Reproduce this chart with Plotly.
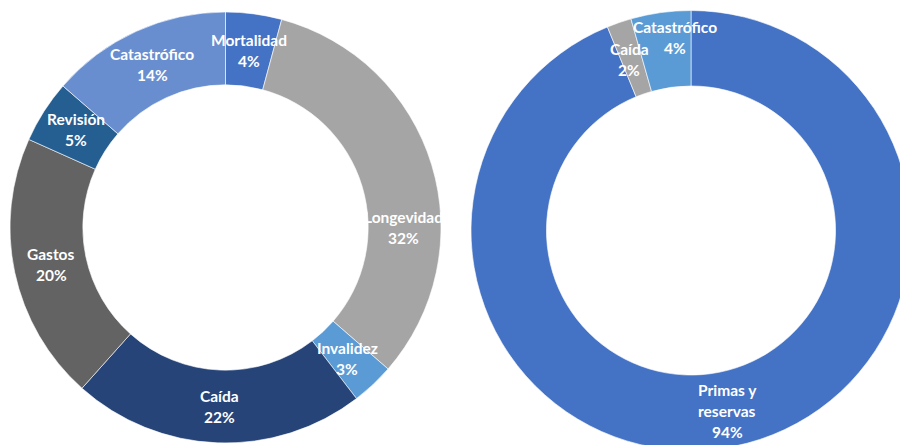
import plotly.graph_objects as go

# ---- data ----
left_labels = ["Mortalidad", "Longevidad", "Invalidez", "Caída", "Gastos", "Revisión", "Catastrófico"]
left_values = [4.2, 32.2, 3.2, 22.0, 20.1, 4.7, 13.6]
left_colors = ["#4472C4", "#A5A5A5", "#5B9BD5", "#264478", "#636363", "#255E91", "#698ED0"]

right_labels = ["Primas y<br>reservas", "Caída", "Catastrófico"]
right_values = [93.8, 1.8, 4.4]
right_colors = ["#4472C4", "#A5A5A5", "#5B9BD5"]

# label anchor positions (pixels: centre x, y of first line)
left_label_pos = [(249, 40), (403, 217), (347, 348), (219, 396), (51, 254), (76, 119), (152, 54)]
right_label_pos = [(727, 390), (629, 49), (675, 27)]

W, H = 912, 452

fig = go.Figure()
fig.add_trace(go.Pie(
    labels=left_labels, values=left_values, sort=False, direction="clockwise",
    hole=0.662, marker=dict(colors=left_colors, line=dict(color="white", width=0.6)),
    textinfo="none", hoverinfo="label+percent", showlegend=False,
    domain=dict(x=[10 / W, 441 / W], y=[1 - 443 / H, 1 - 12 / H]),
))
fig.add_trace(go.Pie(
    labels=right_labels, values=right_values, sort=False, direction="clockwise",
    hole=0.657, marker=dict(colors=right_colors, line=dict(color="white", width=0.6)),
    textinfo="none", hoverinfo="label+percent", showlegend=False,
    domain=dict(x=[471 / W, 911 / W], y=[1 - 450.5 / H, 1 - 10.5 / H]),
))

font = dict(family="Lato", size=15.5, color="white")
LINE = 21


def add_labels(labels, values, positions):
    total = sum(values)
    for lab, v, (px, py) in zip(labels, values, positions):
        lines = lab.split("<br>") + [f"{round(v / total * 100)}%"]
        for i, t in enumerate(lines):
            fig.add_annotation(
                x=px / W, y=1 - (py + i * LINE) / H, xref="paper", yref="paper",
                text=f"<b>{t}</b>", showarrow=False, font=font,
                xanchor="center", yanchor="middle",
            )


add_labels(left_labels, left_values, left_label_pos)
add_labels(right_labels, right_values, right_label_pos)

fig.update_layout(
    width=W, height=H, margin=dict(l=0, r=0, t=0, b=0),
    paper_bgcolor="white", plot_bgcolor="white",
)

fig.write_html(
    "out.html",
    config={"displayModeBar": False},
    post_script="document.body.style.margin='0';document.body.style.overflow='hidden';",
)
